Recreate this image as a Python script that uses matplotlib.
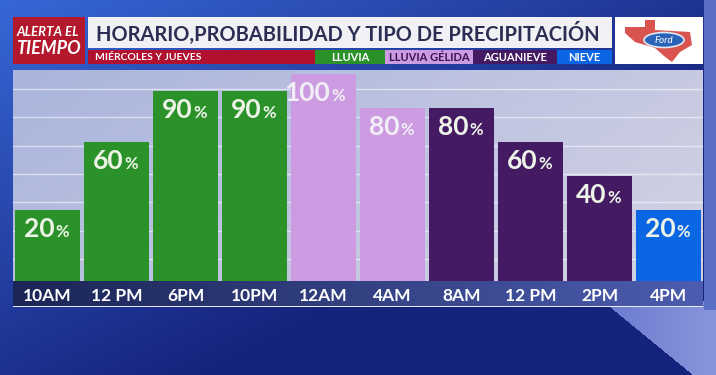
import matplotlib.pyplot as plt
import numpy as np
from matplotlib.colors import to_rgb
from matplotlib.patches import Rectangle, Ellipse, Polygon

plt.rcParams['font.family'] = ['Lato', 'DejaVu Sans']

# data
hours = ["10AM", "12 PM", "6PM", "10PM", "12AM", "4AM", "8AM", "12 PM", "2PM", "4PM"]
chance = [20, 60, 90, 90, 100, 80, 80, 60, 40, 20]
kind = ["LLUVIA"] * 4 + ["LLUVIA GÉLIDA"] * 2 + ["AGUANIEVE"] * 3 + ["NIEVE"]

legend_names = ["LLUVIA", "LLUVIA GÉLIDA", "AGUANIEVE", "NIEVE"]
legend_colors = ["#2b922a", "#cc9be2", "#441b63", "#0b66e3"]
legend_txt = ["white", "#3a1450", "white", "white"]
kind_color = dict(zip(legend_names, legend_colors))

W, H = 716, 375


def px(x0, y0, w, h):
    return [x0 / W, 1 - (y0 + h) / H, w / W, h / H]


def mix(c1, c2, t):
    a, b = np.array(to_rgb(c1)), np.array(to_rgb(c2))
    t = np.clip(t, 0, 1)[..., None]
    return a * (1 - t) + b * t


fig = plt.figure(figsize=(W / 100, H / 100), dpi=100)

# background
yy, xx = np.mgrid[0:H, 0:W]
img = mix("#3767d6", "#16237c", (xx * 0.55 + yy * 1.1) / 520)
wedge = (xx > 610 + (yy - 307) * 83 / 68) & (yy > 300)
img[wedge] = mix("#6d7cd0", "#8a96dc", (xx[wedge] - 610) / 110)
img[(xx > 703) & (yy < 310)] = to_rgb("#5a6fc6")
bg = fig.add_axes([0, 0, 1, 1])
bg.imshow(img, extent=(0, W, H, 0), aspect="auto")
bg.set_xlim(0, W)
bg.set_ylim(H, 0)
bg.axis("off")

# header
bg.add_patch(Rectangle((13, 17), 72, 47, fc="#b3182c", ec="none"))
bg.text(17, 32, "ALERTA EL", color="white", fontsize=9.5, fontweight="bold", style="italic", va="center")
bg.text(16, 48, "TIEMPO", color="white", fontsize=13, fontweight="bold", style="italic", va="center")

bg.add_patch(Rectangle((88, 17), 524, 31, fc="#f1f1f5", ec="none"))
bg.text(96, 33, "HORARIO,PROBABILIDAD Y TIPO DE PRECIPITACIÓN", color="#2b2d52",
        fontsize=14.4, fontweight="bold", va="center")
bg.add_patch(Rectangle((88, 50), 227, 14, fc="#b2102f", ec="none"))
bg.text(95, 57.5, "MIÉRCOLES Y JUEVES", color="white", fontsize=7.5, fontweight="bold", va="center")
edges = [315, 385, 473, 557, 612]
for i, name in enumerate(legend_names):
    bg.add_patch(Rectangle((edges[i], 50), edges[i + 1] - edges[i], 14, fc=legend_colors[i], ec="none"))
    bg.text((edges[i] + edges[i + 1]) / 2, 57.5, name, color=legend_txt[i], fontsize=8,
            fontweight="bold", ha="center", va="center")

# logo
bg.add_patch(Rectangle((615, 17), 88, 47, fc="white", ec="none"))
texas = [(625, 27), (645, 27), (645, 20), (655, 20), (655, 30), (690, 32), (692, 45),
         (680, 52), (672, 62), (664, 56), (655, 48), (645, 45), (635, 42), (625, 33)]
bg.add_patch(Polygon(texas, closed=True, fc="#d9534f", ec="none"))
bg.add_patch(Ellipse((664, 40), 40, 15, fc="#2a63b8", ec="#dfe8f5", lw=1.2))
bg.text(664, 40.5, "Ford", color="white", fontsize=7, style="italic", ha="center", va="center")

# label band
band = fig.add_axes(px(13, 281, 690, 25))
band.imshow(mix("#1b2555", "#4c5db0", np.linspace(0, 1, 200))[None], aspect="auto",
            extent=(0, 1, 0, 1))
band.set_xlim(0, 1)
band.set_ylim(0, 1)
band.axis("off")
bg.add_patch(Rectangle((13, 305.5), 690, 1.5, fc="#e6e8f5", ec="none"))

# main chart
base = -37 / 1.7
top = (281 - 70 - 37) / 1.7
ax = fig.add_axes(px(13, 70, 690, 211))
ax.set_zorder(3)
ax.patch.set_visible(False)
yy2, xx2 = np.mgrid[0:100, 0:200]
panel = mix("#a9b5dc", "#d0d0e3", xx2 / 200 * 0.75 + yy2 / 100 * 0.35)
ax.imshow(panel, extent=(-0.5, 9.5, base, top), aspect="auto", zorder=0)
ax.set_xlim(-0.5, 9.5)
ax.set_ylim(base, top)

ax.set_yticks(np.linspace(-8.8, 91.2, 7))
ax.grid(axis="y", color="white", alpha=0.55, lw=1)
ax.set_axisbelow(True)

x = np.arange(len(hours))
vals = np.array(chance)
colors = [kind_color[k] for k in kind]
ax.bar(x, vals - base, bottom=base, width=0.93, color=colors, zorder=2)

for i, v in enumerate(vals):
    tc = "#f2eef6" if kind[i] == "LLUVIA GÉLIDA" else "#eef3e8"
    ax.annotate(f"{v}", xy=(i, v), xytext=(7 * 0.72, -27 * 0.72), textcoords="offset points",
                ha="right", va="baseline", fontsize=19, fontweight="bold", color=tc, zorder=4)
    ax.annotate("%", xy=(i, v), xytext=(8 * 0.72, -27 * 0.72), textcoords="offset points",
                ha="left", va="baseline", fontsize=12, fontweight="bold", color=tc, zorder=4)

ax.set_xticks(x, hours)
ax.set_yticklabels([])
ax.tick_params(axis="x", length=0, pad=5, labelcolor="white", labelsize=12.5)
ax.tick_params(axis="y", length=0)
for lab in ax.get_xticklabels():
    lab.set_fontweight("bold")
for s in ax.spines.values():
    s.set_visible(False)

fig.savefig("out.png", dpi=100)
